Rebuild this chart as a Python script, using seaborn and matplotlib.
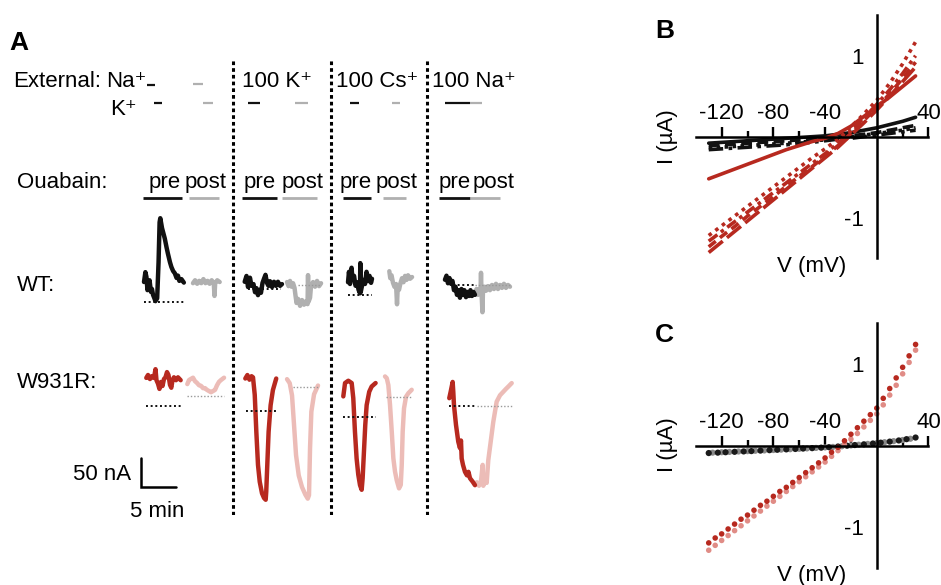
import numpy as np
import matplotlib.pyplot as plt
from matplotlib.lines import Line2D
import seaborn as sns

sns.set_style('white')
plt.rcParams['font.family'] = ['Liberation Sans', 'DejaVu Sans']
plt.rcParams['axes.unicode_minus'] = False
plt.rcParams['text.color'] = 'black'
plt.rcParams['xtick.color'] = 'black'
plt.rcParams['ytick.color'] = 'black'

# ---- panel A traces: minutes from trace start, nA relative to its dotted baseline
wt_nak_pre_t = [0, .2, .35, .5, .6, .8, 1.0, 1.15, 1.3, 1.5, 1.65, 1.9, 2.1, 2.25, 2.35, 2.5, 2.6,
                3.0, 3.25, 3.45, 3.75, 3.95, 4.2, 4.45, 4.7, 4.9, 5.1, 5.4, 5.75]
wt_nak_pre_i = [35, 52, 44, 21, 27, 38, 18, 23, 13, 7, 2, 7, 69, 138, 145, 135, 128,
                110, 95, 84, 69, 61, 54, 50, 42, 46, 37, 40, 34]
wt_nak_post_t = [0, .3, .6, .9, 1.2, 1.5, 1.8, 2.1, 2.4, 2.7, 3.0, 3.1, 3.2, 3.5, 3.85]
wt_nak_post_i = [33, 38, 32, 37, 33, 40, 33, 37, 32, 38, 33, 11, 33, 38, 35]
wt_k_pre_t = [0, .26, .48, .76, .98, 1.27, 1.49, 1.7, 1.92, 2.14, 2.35, 2.57, 2.78, 3.0, 3.22,
              3.43, 3.65, 3.94, 4.23, 4.52, 4.8, 5.1, 5.38]
wt_k_pre_i = [13, 23, 4, 20, 6, 9, -5, 2, -10, -1, -6, 11, 18, 25, 11, 6, 14, 4, 13, 6, 13, 6, 9]
wt_k_post_t = [0, .22, .43, .65, .87, 1.08, 1.23, 1.37, 1.59, 1.88, 2.16, 2.45, 2.74, 2.96, 3.03,
               3.1, 3.32, 3.46, 3.75, 4.04, 4.33, 4.62, 4.91]
wt_k_post_i = [5, -2, 7, -3, 3, -5, -19, -31, -24, -36, -26, -34, -28, -33, 17, -29, -22, -2, 5,
               -3, 7, -2, 3]
wt_cs_pre_t = [0, .14, .29, .51, .65, .87, 1.08, 1.3, 1.52, 1.73, 1.77, 1.83, 2.02, 2.24, 2.45,
               2.67, 2.89, 3.1, 3.32, 3.46]
wt_cs_pre_i = [22, 40, 19, 47, 26, 33, 16, 22, 9, 3, 55, 5, 16, 26, 19, 40, 24, 33, 21, 28]
wt_cs_post_t = [0, .14, .32, .53, .75, .97, 1.11, 1.21, 1.4, 1.62, 1.83, 2.05, 2.27, 2.48, 2.7,
                2.99, 3.28]
wt_cs_post_i = [41, 29, 34, 21, 14, 19, -16, 12, 9, 21, 29, 22, 33, 26, 34, 28, 31]
wt_na_pre_t = [0, .22, .43, .65, .87, 1.08, 1.3, 1.52, 1.73, 1.95, 2.16, 2.38, 2.6, 2.81, 3.03,
               3.25, 3.46, 3.68, 3.9, 4.11, 4.33]
wt_na_pre_i = [9, 16, 3, 12, 2, 7, -9, -3, -17, -9, -22, -7, -17, -9, -21, -12, -19, -9, -19,
               -12, -17]
wt_na_post_t = [0, .22, .43, .65, .79, .87, .94, 1.08, 1.15, 1.37, 1.59, 1.88, 2.16, 2.45, 2.74,
                3.03, 3.32, 3.61, 3.9, 4.18, 4.47, 4.76, 5.05]
wt_na_post_i = [-16, -7, -17, -7, -14, 21, -12, -47, -12, -3, -10, -2, -9, 0, -7, 2, -7, 0, -5,
                2, -5, 0, -3]

mut_nak_pre_t = [0, .25, .53, .82, 1.11, 1.33, 1.47, 1.69, 1.9, 2.12, 2.34, 2.55, 2.77, 2.99,
                 3.2, 3.42, 3.61, 3.78, 3.99, 4.29, 4.57, 4.96]
mut_nak_pre_i = [48, 53, 46, 51, 48, 63, 44, 38, 29, 41, 34, 46, 49, 58, 53, 36, 31, 44, 49, 44,
                 49, 44]
mut_nak_post_t = [0, .25, .53, .82, 1.11, 1.4, 1.69, 1.98, 2.27, 2.55, 2.84, 3.13, 3.42, 3.71,
                  4.0, 4.29, 4.58, 4.86, 5.3]
mut_nak_post_i = [20, 27, 29, 31, 25, 22, 18, 17, 13, 13, 10, 8, 6, 8, 10, 18, 24, 27, 31]
mut_k_pre_t = [0, .3, .6, .9, 1.11, 1.36, 1.59, 1.83, 2.08, 2.41, 2.7, 2.94, 3.02, 3.17, 3.36,
               3.65, 3.98, 4.46]
mut_k_pre_i = [56, 62, 54, 60, 58, 28, -36, -93, -122, -142, -150, -153, -139, -93, -36, 10, 36, 56]
mut_k_post_t = [0, .39, .72, 1.01, 1.3, 1.69, 2.16, 2.64, 2.99, 3.17, 3.32, 3.51, 3.9, 4.47]
mut_k_post_i = [13, 6, -15, -66, -118, -153, -173, -186, -193, -187, -106, -43, -13, 2]
mut_cs_pre_t = [0, .25, .72, 1.21, 1.44, 1.68, 1.92, 2.16, 2.41, 2.65, 2.79, 2.98, 3.17, 3.37,
                3.74, 4.09, 4.66]
mut_cs_pre_i = [35, 58, 62, 58, 32, -26, -72, -100, -118, -126, -106, -60, -14, 20, 43, 52, 58]
mut_cs_post_t = [0, .25, .48, .72, .97, 1.2, 1.44, 1.69, 2.02, 2.27, 2.41, 2.55, 2.74, 3.03,
                 3.36, 3.85]
mut_cs_post_i = [36, 33, 21, -13, -59, -105, -128, -143, -157, -151, -117, -59, -19, 1, 7, 13]
mut_na_pre_t = [0, .2, .49, .58, .68, .97, 1.3, 1.54, 1.69, 1.79, 1.98, 2.27, 2.55, 2.77, 2.99,
                3.38, 3.71]
mut_na_pre_i = [13, 24, 41, 24, 1, -33, -62, -73, -60, -91, -102, -114, -120, -114, -125, -131,
                -137]
mut_na_post_t = [0, .29, .58, .87, 1.11, 1.2, 1.44, 1.69, 1.92, 2.27, 2.64, 3.13, 3.61, 4.08,
                 4.47, 4.81, 5.3]
mut_na_post_i = [-134, -132, -138, -130, -102, -138, -125, -133, -94, -62, -28, 7, 18, 24, 29,
                 33, 39]

# where each trace sits on the strip (min) and its dotted baseline level (nA)
trace_start = [2.02, 9.09, 16.55, 22.66, 31.46, 37.42, 45.45, 49.78,
               2.35, 8.27, 16.64, 22.66, 30.78, 36.8, 46.07, 49.78]
trace_base = [366.7, 366.7, 389.1, 396.6, 379.3, 379.3, 396.6, 396.6,
              188.4, 205.7, 179.3, 221.2, 169.5, 202.9, 188.4, 188.4]
# extent of dotted baseline, minutes from trace start (None = no line)
dotted_span = [(0, 5.8), None, (0.48, 5.24), (1.59, 4.91), (0, 3.46), None, (1.15, 4.33), (0, 5.05),
               (0, 4.96), (0, 5.3), (0.1, 4.43), (0.87, 4.47), (0, 4.66), (0.14, 3.85), (0, 4.0),
               (0.29, 5.3)]

# ---- panel B: I-V curves (uA)
v_b = [-130, -120, -110, -100, -90, -80, -70, -60, -50, -40, -30, -20, -10, 0, 10, 20, 30]
b_red_solid = [-0.52, -0.46, -0.40, -0.34, -0.28, -0.22, -0.16, -0.11, -0.06, -0.02, 0.04, 0.13,
               0.25, 0.37, 0.49, 0.62, 0.75]
b_red_dot = [-1.22, -1.10, -0.98, -0.86, -0.74, -0.62, -0.50, -0.38, -0.26, -0.15, -0.03, 0.12,
             0.28, 0.45, 0.66, 0.90, 1.17]
b_red_dashdot = [-1.29, -1.17, -1.05, -0.93, -0.81, -0.69, -0.57, -0.45, -0.33, -0.21, -0.08,
                 0.07, 0.23, 0.40, 0.58, 0.78, 1.00]
b_red_dash = [-1.36, -1.23, -1.11, -0.98, -0.86, -0.74, -0.61, -0.49, -0.37, -0.24, -0.11, 0.04,
              0.20, 0.36, 0.53, 0.72, 0.92]
b_red_longdash = [-1.43, -1.30, -1.17, -1.04, -0.91, -0.78, -0.65, -0.52, -0.39, -0.26, -0.13,
                  0.02, 0.17, 0.33, 0.50, 0.68, 0.86]
b_blk_solid = [-0.08, -0.07, -0.06, -0.05, -0.04, -0.03, -0.02, -0.01, 0.00, 0.01, 0.03, 0.05,
               0.08, 0.11, 0.15, 0.19, 0.24]
b_blk_dash = [-0.11, -0.10, -0.09, -0.08, -0.07, -0.06, -0.05, -0.04, -0.03, -0.02, -0.01, 0.01,
              0.03, 0.05, 0.08, 0.11, 0.14]
b_blk_dot = [-0.14, -0.13, -0.12, -0.11, -0.10, -0.09, -0.08, -0.07, -0.05, -0.04, -0.02, 0.00,
             0.02, 0.04, 0.06, 0.08, 0.11]
b_blk_dashdot = [-0.16, -0.15, -0.14, -0.13, -0.12, -0.11, -0.10, -0.08, -0.07, -0.05, -0.03,
                 -0.02, 0.00, 0.02, 0.04, 0.06, 0.08]

# ---- panel C: mean I-V points (uA)
v_c_red = [-130, -125, -120, -115, -110, -105, -100, -95, -90, -85, -80, -75, -70, -65, -60, -55,
           -50, -45, -40, -35, -30, -25, -20, -15, -10, -5, 0, 5, 10, 15, 20, 25, 30]
c_red_pre = [-1.19, -1.13, -1.08, -1.02, -0.96, -0.90, -0.85, -0.79, -0.73, -0.68, -0.62, -0.56,
             -0.51, -0.45, -0.39, -0.33, -0.27, -0.21, -0.15, -0.08, -0.02, 0.06, 0.14, 0.22,
             0.30, 0.38, 0.46, 0.58, 0.70, 0.83, 0.96, 1.10, 1.24]
c_red_post = [-1.28, -1.22, -1.16, -1.10, -1.04, -0.98, -0.92, -0.86, -0.80, -0.74, -0.68, -0.62,
              -0.56, -0.50, -0.44, -0.38, -0.32, -0.26, -0.20, -0.13, -0.06, 0.01, 0.08, 0.15,
              0.23, 0.31, 0.39, 0.50, 0.62, 0.74, 0.88, 1.02, 1.17]
v_c_blk = [-130, -123, -117, -110, -103, -97, -90, -83, -77, -70, -63, -57, -50, -43, -37, -30,
           -23, -17, -10, -3, 3, 10, 17, 23, 30]
c_blk_pre = [-0.09, -0.085, -0.08, -0.075, -0.07, -0.066, -0.06, -0.055, -0.05, -0.045, -0.04,
             -0.035, -0.03, -0.024, -0.018, -0.01, 0.0, 0.008, 0.017, 0.027, 0.037, 0.05, 0.064,
             0.08, 0.10]
v_c_gry = [-127, -120, -114, -107, -100, -94, -87, -80, -74, -67, -60, -54, -47, -40, -34, -27,
           -20, -14, -7, 0, 6, 13, 20, 26]
c_gry_post = [-0.085, -0.08, -0.076, -0.071, -0.067, -0.062, -0.058, -0.053, -0.048, -0.043,
              -0.038, -0.033, -0.027, -0.021, -0.015, -0.007, 0.003, 0.012, 0.022, 0.032, 0.043,
              0.056, 0.07, 0.085]

BLACK = '#111111'
GRAY = '#b0b0b0'
RED = '#b7291f'
PINK = '#ecbcb7'

W, H = 941, 585
fig = plt.figure(figsize=(W / 100, H / 100), dpi=100)


def fpos(x, y):
    return x / W, 1 - y / H


def ftext(x, y, s, **kw):
    kw.setdefault('fontsize', 16)
    kw.setdefault('va', 'baseline')
    fig.text(*fpos(x, y), s, **kw)


def fbar(x0, x1, y, color, lw=1.6):
    fig.add_artist(Line2D([x0 / W, x1 / W], [1 - y / H] * 2, color=color, lw=lw,
                          solid_capstyle='butt'))


# ---------------- panel A
axA = fig.add_axes([130 / W, 1 - 515 / H, 400 / W, 460 / H])
axA.set_xlim(0, 400 / 6.93)
axA.set_ylim(0, 460 / 0.58)
axA.axis('off')

traces_t = [wt_nak_pre_t, wt_nak_post_t, wt_k_pre_t, wt_k_post_t, wt_cs_pre_t, wt_cs_post_t,
            wt_na_pre_t, wt_na_post_t, mut_nak_pre_t, mut_nak_post_t, mut_k_pre_t, mut_k_post_t,
            mut_cs_pre_t, mut_cs_post_t, mut_na_pre_t, mut_na_post_t]
traces_i = [wt_nak_pre_i, wt_nak_post_i, wt_k_pre_i, wt_k_post_i, wt_cs_pre_i, wt_cs_post_i,
            wt_na_pre_i, wt_na_post_i, mut_nak_pre_i, mut_nak_post_i, mut_k_pre_i, mut_k_post_i,
            mut_cs_pre_i, mut_cs_post_i, mut_na_pre_i, mut_na_post_i]
trace_col = [BLACK, GRAY] * 4 + [RED, PINK] * 4
dot_col = [BLACK, '#999999'] * 8

for k in range(16):
    x = np.add(trace_start[k], traces_t[k])
    y = np.add(trace_base[k], traces_i[k])
    sns.lineplot(x=x, y=y, color=trace_col[k], lw=3.2, estimator=None, sort=False, ax=axA,
                 zorder=3 if k % 2 == 0 else 2)
    if dotted_span[k] is not None:
        a, b = dotted_span[k]
        axA.plot([trace_start[k] + a, trace_start[k] + b], [trace_base[k]] * 2,
                 color=dot_col[k], lw=1.4 if k % 2 == 0 else 1.0, ls=(0, (1, 1.4)), zorder=4)

# dotted column separators
for xs in [14.91, 29.0, 42.86]:
    axA.plot([xs, xs], [0, 784], color='black', lw=2.2, ls=(0, (1.2, 1.0)))

# scale bar 50 nA / 5 min
axA.plot([1.59, 1.59, 6.59], [98.3, 48.3, 48.3], color='black', lw=1.8, solid_joinstyle='miter')
ftext(131, 480, '50 nA', ha='right')
ftext(157, 517, '5 min', ha='center')

# labels panel A
ftext(9, 50, 'A', fontsize=19, fontweight='bold')
ftext(13, 87, 'External:')
ftext(106, 87, 'Na⁺')
ftext(137, 115, 'K⁺', ha='right')
ftext(277, 87, '100 K⁺', ha='center')
ftext(377, 87, '100 Cs⁺', ha='center')
ftext(474, 87, '100 Na⁺', ha='center')
ftext(17, 188, 'Ouabain:')
for cx in [164.5, 260, 355.5, 454.5]:
    ftext(cx, 188, 'pre', ha='center')
for cx in [206, 302.5, 396.5, 494]:
    ftext(cx, 188, 'post', ha='center')
ftext(17, 291, 'WT:')
ftext(17, 388, 'W931R:')

# solution / ouabain bars
fbar(147, 155, 85, BLACK)
fbar(193, 203, 84, GRAY)
for x0, x1, c in [(154, 162, BLACK), (203, 213, GRAY), (248, 260, BLACK), (295, 308, GRAY),
                  (350, 359, BLACK), (392, 400, GRAY), (445, 470, BLACK), (470, 482, GRAY)]:
    fbar(x0, x1, 103, c)
for x0, x1, c in [(143, 182, BLACK), (189, 219, GRAY), (242, 277, BLACK), (282, 317, GRAY),
                  (343, 371, BLACK), (383, 406, GRAY), (439, 470, BLACK), (470, 500, GRAY)]:
    fbar(x0, x1, 198, c, lw=2.0)


# ---------------- panels B and C
def iv_axes(top_px, bottom_px):
    ax = fig.add_axes([695.8 / W, 1 - bottom_px / H, 232.7 / W, (bottom_px - top_px) / H])
    ax.set_xlim(-140, 40)
    ax.set_ylim(-1.5, 1.5)
    ax.set_facecolor('none')
    for s in ['right', 'bottom']:
        ax.spines[s].set_visible(False)
    ax.spines['left'].set_position(('data', 0))
    ax.spines['top'].set_position(('data', 0))
    for s in ['left', 'top']:
        ax.spines[s].set_color('black')
        ax.spines[s].set_linewidth(1.8)
    ax.xaxis.tick_top()
    ax.set_xticks([-120, -80, -40, 40])
    ax.set_xticklabels(['-120', '-80', '-40', '40'])
    ax.set_xticks([-100, -60, -20, 20], minor=True)
    ax.set_yticks([-1, 1])
    ax.set_yticklabels(['-1', '1'])
    ax.set_yticks([-1.5, -0.5, 0.5, 1.5], minor=True)
    ax.tick_params(which='major', length=7.5, width=1.7, color='black', labelsize=16,
                   labelcolor='black', direction='out', pad=2)
    ax.tick_params(which='minor', length=4, width=1.7, color='black', direction='out')
    return ax


axB = iv_axes(15.2, 258.2)
for vals, ls in [(b_blk_dashdot, (0, (4, 1.5, 1, 1.5))), (b_blk_dot, (0, (1, 1.2))),
                 (b_blk_dash, (0, (3, 1.5))), (b_blk_solid, '-')]:
    sns.lineplot(x=v_b, y=vals, color=BLACK, lw=2.6, ls=ls, estimator=None, ax=axB)
for vals, ls in [(b_red_longdash, (0, (5, 1.5))), (b_red_dash, (0, (2.5, 1.5))),
                 (b_red_dashdot, (0, (3, 1.2, 1, 1.2))), (b_red_dot, (0, (1, 1.3))),
                 (b_red_solid, '-')]:
    sns.lineplot(x=v_b, y=vals, color=RED, lw=2.6, ls=ls, estimator=None, ax=axB)

axC = iv_axes(323.2, 568.2)
sns.scatterplot(x=v_c_gry, y=c_gry_post, color='#8a8a8a', s=20, edgecolor='none', ax=axC)
sns.scatterplot(x=v_c_blk, y=c_blk_pre, color='#1a1a1a', s=20, edgecolor='none', ax=axC)
sns.scatterplot(x=v_c_red, y=c_red_post, color='#e08c86', s=16, edgecolor='none', ax=axC)
sns.scatterplot(x=v_c_red, y=c_red_pre, color=RED, s=16, edgecolor='none', ax=axC)
for ax in (axB, axC):
    ax.set_xlabel('')
    ax.set_ylabel('')

ftext(655, 38, 'B', fontsize=19, fontweight='bold')
ftext(655, 342, 'C', fontsize=19, fontweight='bold')
for yc in (137, 445):
    fig.text(*fpos(668, yc), 'I (µA)', fontsize=16, rotation=90, ha='center', va='center')
for yc in (267, 576):
    fig.text(*fpos(812, yc), 'V (mV)', fontsize=16, ha='center', va='center')

fig.savefig('out.png', dpi=100)
